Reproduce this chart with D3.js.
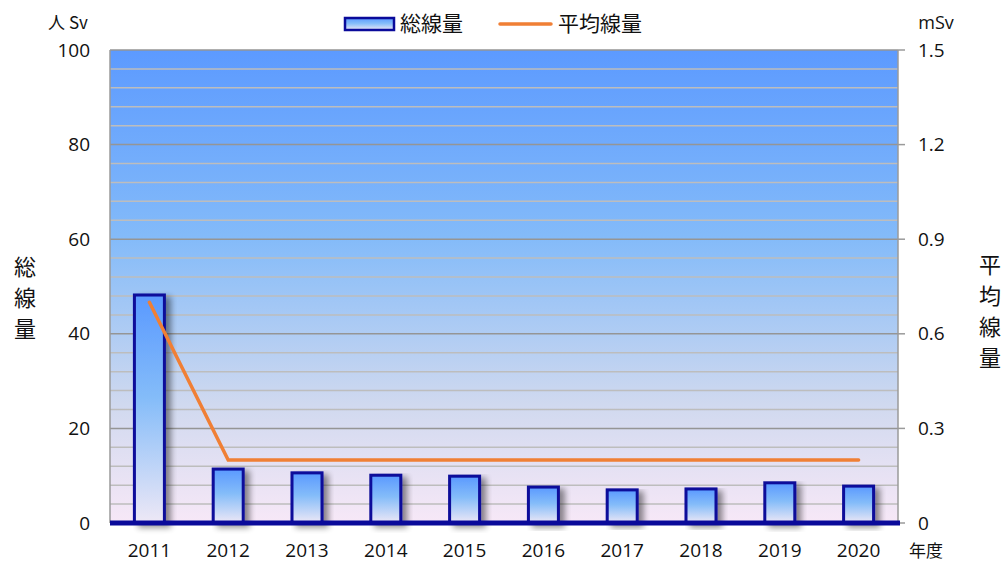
<!DOCTYPE html>
<html lang="ja">
<head>
<meta charset="UTF-8">
<title>総線量と平均線量</title>
<style>
  body { margin: 0; background: #fff; }
  text { font-family: "Open Sans", "Noto Sans CJK JP", sans-serif; fill: #111; }
  .cjk { font-family: "Noto Sans CJK JP", sans-serif; }
</style>
</head>
<body>
<div id="wrapper"></div>
<script src="https://d3js.org/d3.v7.min.js"></script>
<script>
// データ
const years = ['2011', '2012', '2013', '2014', '2015', '2016', '2017', '2018', '2019', '2020'];
const totalDose = [48.2, 11.4, 10.6, 10.1, 9.9, 7.6, 7.0, 7.2, 8.5, 7.8];   // 人 Sv
const avgDose = [0.7, 0.2, 0.2, 0.2, 0.2, 0.2, 0.2, 0.2, 0.2, 0.2];         // mSv
const leftTicks = [0, 20, 40, 60, 80, 100];
const rightTicks = [0, 0.3, 0.6, 0.9, 1.2, 1.5];

const width = 1007, height = 563;
const plot = { left: 110, right: 898, top: 50, bottom: 523 };

const svg = d3.select('#wrapper').append('svg')
    .attr('width', width).attr('height', height);

const defs = svg.append('defs');

// 背景グラデーション
const bg = defs.append('linearGradient').attr('id', 'bgGrad')
    .attr('x1', 0).attr('y1', 0).attr('x2', 0).attr('y2', 1);
bg.append('stop').attr('offset', '0%').attr('stop-color', '#5c9aff');
bg.append('stop').attr('offset', '40%').attr('stop-color', '#84bbf9');
bg.append('stop').attr('offset', '75%').attr('stop-color', '#d0d9ef');
bg.append('stop').attr('offset', '100%').attr('stop-color', '#f7e8f7');

// 棒グラデーション
const bar = defs.append('linearGradient').attr('id', 'barGrad')
    .attr('x1', 0).attr('y1', 0).attr('x2', 0).attr('y2', 1);
bar.append('stop').attr('offset', '0%').attr('stop-color', '#5a99ff');
bar.append('stop').attr('offset', '45%').attr('stop-color', '#84bcf9');
bar.append('stop').attr('offset', '100%').attr('stop-color', '#eee8f6');

// 影
const shadow = defs.append('filter').attr('id', 'shadow')
    .attr('x', '-20%').attr('y', '-10%').attr('width', '160%').attr('height', '130%');
shadow.append('feGaussianBlur').attr('in', 'SourceAlpha').attr('stdDeviation', 3);
shadow.append('feOffset').attr('dx', 5).attr('dy', 3).attr('result', 'blur');
shadow.append('feComponentTransfer').append('feFuncA').attr('type', 'linear').attr('slope', 0.45);
const merge = shadow.append('feMerge');
merge.append('feMergeNode');
merge.append('feMergeNode').attr('in', 'SourceGraphic');

// スケール
const x = d3.scaleBand().domain(years).range([plot.left, plot.right]).paddingInner(0).paddingOuter(0);
const yL = d3.scaleLinear().domain([0, 100]).range([plot.bottom, plot.top]);
const yR = d3.scaleLinear().domain([0, 1.5]).range([plot.bottom, plot.top]);

// 背景
svg.append('rect')
    .attr('x', plot.left).attr('y', plot.top)
    .attr('width', plot.right - plot.left).attr('height', plot.bottom - plot.top)
    .attr('fill', 'url(#bgGrad)');

// 補助目盛線 (4刻み)
const minor = d3.range(4, 100, 4).filter(v => v % 20 !== 0);
svg.append('g').selectAll('line').data(minor).join('line')
    .attr('x1', plot.left).attr('x2', plot.right)
    .attr('y1', d => yL(d)).attr('y2', d => yL(d))
    .attr('stroke', '#bdbdbd').attr('stroke-width', 1.5);

// 主目盛線
svg.append('g').selectAll('line').data(leftTicks.filter(v => v > 0)).join('line')
    .attr('x1', plot.left).attr('x2', plot.right)
    .attr('y1', d => yL(d)).attr('y2', d => yL(d))
    .attr('stroke', '#959595').attr('stroke-width', 1.5);

// 枠線
svg.append('line').attr('x1', plot.left).attr('x2', plot.left)
    .attr('y1', plot.top).attr('y2', plot.bottom)
    .attr('stroke', '#9a9a9a').attr('stroke-width', 1.5);
svg.append('line').attr('x1', plot.right).attr('x2', plot.right)
    .attr('y1', plot.top).attr('y2', plot.bottom)
    .attr('stroke', '#9a9a9a').attr('stroke-width', 1.5);

// 右軸の目盛
svg.append('g').selectAll('line').data(rightTicks).join('line')
    .attr('x1', plot.right).attr('x2', plot.right + 7)
    .attr('y1', d => yR(d)).attr('y2', d => yR(d))
    .attr('stroke', '#9a9a9a').attr('stroke-width', 1.5);

// 棒
const barW = 30;
svg.append('g').selectAll('rect').data(totalDose).join('rect')
    .attr('x', (d, i) => x(years[i]) + x.bandwidth() / 2 - barW / 2)
    .attr('y', d => yL(d))
    .attr('width', barW)
    .attr('height', d => yL(0) - yL(d))
    .attr('fill', 'url(#barGrad)')
    .attr('stroke', '#0a0a9a').attr('stroke-width', 3)
    .attr('filter', 'url(#shadow)');

// 基線
svg.append('line').attr('x1', plot.left).attr('x2', plot.right + 2)
    .attr('y1', plot.bottom).attr('y2', plot.bottom)
    .attr('stroke', '#0a0a9a').attr('stroke-width', 5);

// 平均線量の線
const line = d3.line()
    .x((d, i) => x(years[i]) + x.bandwidth() / 2)
    .y(d => yR(d));
svg.append('path').datum(avgDose)
    .attr('d', line)
    .attr('fill', 'none')
    .attr('stroke', '#f07f35').attr('stroke-width', 3.5)
    .attr('stroke-linecap', 'round');

// 左軸ラベル
svg.append('g').selectAll('text').data(leftTicks).join('text')
    .attr('x', 90).attr('y', d => yL(d))
    .attr('dy', '0.35em').attr('text-anchor', 'end')
    .attr('font-size', 19)
    .text(d => d);

// 右軸ラベル
svg.append('g').selectAll('text').data(rightTicks).join('text')
    .attr('x', 918).attr('y', d => yR(d))
    .attr('dy', '0.35em').attr('text-anchor', 'start')
    .attr('font-size', 19)
    .text(d => d === 0 ? '0' : d3.format('.1f')(d));

// 年ラベル
svg.append('g').selectAll('text').data(years).join('text')
    .attr('x', d => x(d) + x.bandwidth() / 2).attr('y', 557)
    .attr('text-anchor', 'middle')
    .attr('font-size', 19)
    .text(d => d);

// 単位
svg.append('text').attr('class', 'cjk').attr('x', 68).attr('y', 23)
    .attr('dy', '0.35em').attr('text-anchor', 'middle').attr('font-size', 17)
    .text('人 Sv');
svg.append('text').attr('x', 936).attr('y', 23)
    .attr('dy', '0.35em').attr('text-anchor', 'middle').attr('font-size', 18)
    .text('mSv');
svg.append('text').attr('class', 'cjk').attr('x', 926).attr('y', 557)
    .attr('text-anchor', 'middle').attr('font-size', 17)
    .text('年度');

// 縦書きタイトル
const leftTitle = '総線量'.split('');
svg.append('g').selectAll('text').data(leftTitle).join('text')
    .attr('class', 'cjk')
    .attr('x', 25).attr('y', (d, i) => 275 + i * 31)
    .attr('text-anchor', 'middle').attr('font-size', 22)
    .text(d => d);
const rightTitle = '平均線量'.split('');
svg.append('g').selectAll('text').data(rightTitle).join('text')
    .attr('class', 'cjk')
    .attr('x', 990).attr('y', (d, i) => 273 + i * 31)
    .attr('text-anchor', 'middle').attr('font-size', 22)
    .text(d => d);

// 凡例
const legend = svg.append('g');
legend.append('rect').attr('x', 345).attr('y', 18).attr('width', 49).attr('height', 12)
    .attr('fill', 'url(#barGrad)').attr('stroke', '#0a0a9a').attr('stroke-width', 2.5);
legend.append('text').attr('class', 'cjk').attr('x', 400).attr('y', 24)
    .attr('dy', '0.35em').attr('font-size', 21).text('総線量');
legend.append('line').attr('x1', 500).attr('x2', 551).attr('y1', 24).attr('y2', 24)
    .attr('stroke', '#f07f35').attr('stroke-width', 3.5).attr('stroke-linecap', 'round');
legend.append('text').attr('class', 'cjk').attr('x', 558).attr('y', 24)
    .attr('dy', '0.35em').attr('font-size', 21).text('平均線量');
</script>
</body>
</html>
